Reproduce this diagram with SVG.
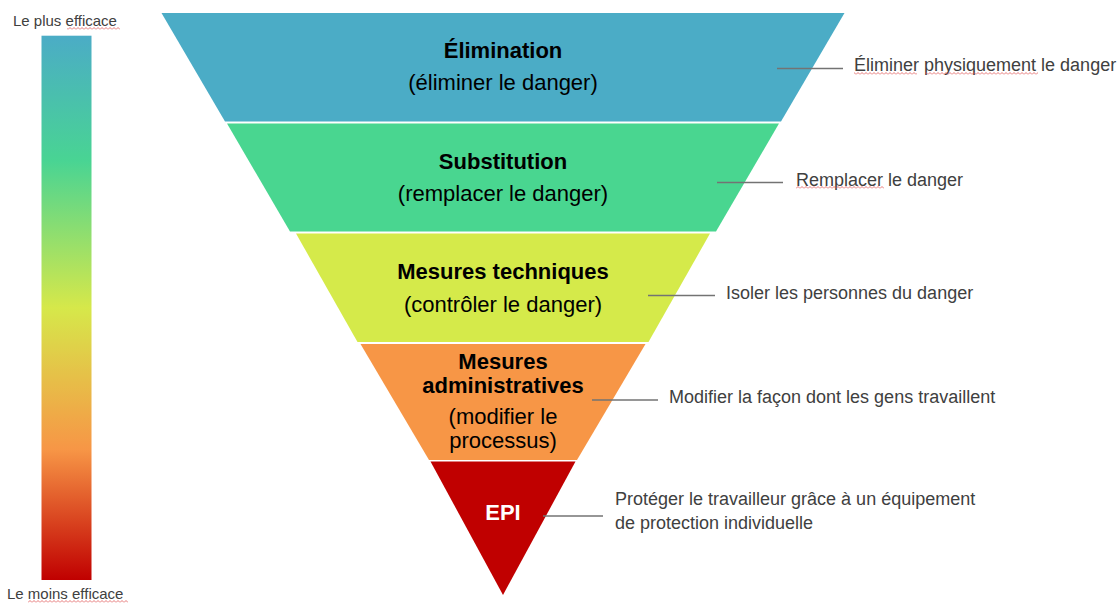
<svg xmlns="http://www.w3.org/2000/svg" width="1119" height="603" viewBox="0 0 1119 603">
  <style>
    .title { font-family: "Liberation Sans", Arial, sans-serif; font-size: 22px; font-weight: bold; fill: #000000; text-anchor: middle; }
    .sub { font-family: "Liberation Sans", Arial, sans-serif; font-size: 22px; fill: #000000; text-anchor: middle; }
    .note { font-family: "Liberation Sans", Arial, sans-serif; font-size: 18px; fill: #404040; }
    .scale { font-family: "Liberation Sans", Arial, sans-serif; font-size: 15px; fill: #404040; }
    .leader { stroke: #737373; stroke-width: 1.4; fill: none; }
  </style>
  <defs>
    <linearGradient id="effectiveness" x1="0" y1="0" x2="0" y2="1">
      <stop offset="0" stop-color="#4BACC6"/>
      <stop offset="0.23" stop-color="#49D493"/>
      <stop offset="0.5" stop-color="#D6E84A"/>
      <stop offset="0.76" stop-color="#F79646"/>
      <stop offset="1" stop-color="#C00000"/>
    </linearGradient>
    <pattern id="squiggle" width="4" height="3" patternUnits="userSpaceOnUse">
      <path d="M0,2.5 L2,0.5 L4,2.5" fill="none" stroke="#E05555" stroke-width="0.8"/>
    </pattern>
  </defs>

  <rect width="1119" height="603" fill="#FFFFFF"/>

  <!-- effectiveness scale -->
  <g id="scale">
    <text class="scale" x="13" y="26">Le plus efficace</text>
    <rect x="67" y="27" width="53" height="3" fill="url(#squiggle)"/>
    <rect x="41.5" y="35.7" width="50" height="544.3" fill="url(#effectiveness)"/>
    <text class="scale" x="7" y="599">Le moins efficace</text>
    <rect x="28" y="600" width="100" height="3" fill="url(#squiggle)"/>
  </g>

  <!-- hierarchy levels -->
  <g id="elimination">
    <polygon points="161.5,13 844.5,13 781,121.5 225,121.5" fill="#4BACC6"/>
    <text class="title" x="503" y="58">Élimination</text>
    <text class="sub" x="503" y="90">(éliminer le danger)</text>
  </g>
  <g id="substitution">
    <polygon points="227,123.5 779,123.5 716,231.5 290,231.5" fill="#49D690"/>
    <text class="title" x="503" y="169">Substitution</text>
    <text class="sub" x="503" y="201">(remplacer le danger)</text>
  </g>
  <g id="mesures-techniques">
    <polygon points="296,233.5 710,233.5 648.5,342 357.5,342" fill="#D5EA4A"/>
    <text class="title" x="503" y="279">Mesures techniques</text>
    <text class="sub" x="503" y="312">(contrôler le danger)</text>
  </g>
  <g id="mesures-administratives">
    <polygon points="360.5,344 645.5,344 577,460 429,460" fill="#F79646"/>
    <text class="title" x="503" y="369">Mesures</text>
    <text class="title" x="503" y="393">administratives</text>
    <text class="sub" x="503" y="424">(modifier le</text>
    <text class="sub" x="503" y="448">processus)</text>
  </g>
  <g id="epi">
    <polygon points="430.5,461.5 575.5,461.5 503,595" fill="#C00000"/>
    <text class="title" x="503" y="520" style="fill:#FFFFFF">EPI</text>
  </g>

  <!-- leader lines -->
  <g id="connectors">
    <line class="leader" x1="777" y1="68.5" x2="843" y2="68.5"/>
    <line class="leader" x1="717" y1="182.5" x2="783" y2="182.5"/>
    <line class="leader" x1="648" y1="295.5" x2="715" y2="295.5"/>
    <line class="leader" x1="592" y1="400" x2="658" y2="400"/>
    <line class="leader" x1="543" y1="516" x2="603" y2="516"/>
  </g>

  <!-- descriptions -->
  <g id="desc-elimination">
    <text class="note" x="854" y="71">Éliminer physiquement le danger</text>
    <rect x="854" y="72" width="63" height="3" fill="url(#squiggle)"/>
    <rect x="925" y="72" width="113" height="3" fill="url(#squiggle)"/>
  </g>
  <g id="desc-substitution">
    <text class="note" x="796" y="186">Remplacer le danger</text>
    <rect x="796" y="186" width="88" height="3" fill="url(#squiggle)"/>
  </g>
  <g id="desc-techniques">
    <text class="note" x="726" y="299">Isoler les personnes du danger</text>
  </g>
  <g id="desc-administratives">
    <text class="note" x="669" y="403">Modifier la façon dont les gens travaillent</text>
  </g>
  <g id="desc-epi">
    <text class="note" x="615" y="505">Protéger le travailleur grâce à un équipement</text>
    <text class="note" x="615" y="529">de protection individuelle</text>
  </g>
</svg>
